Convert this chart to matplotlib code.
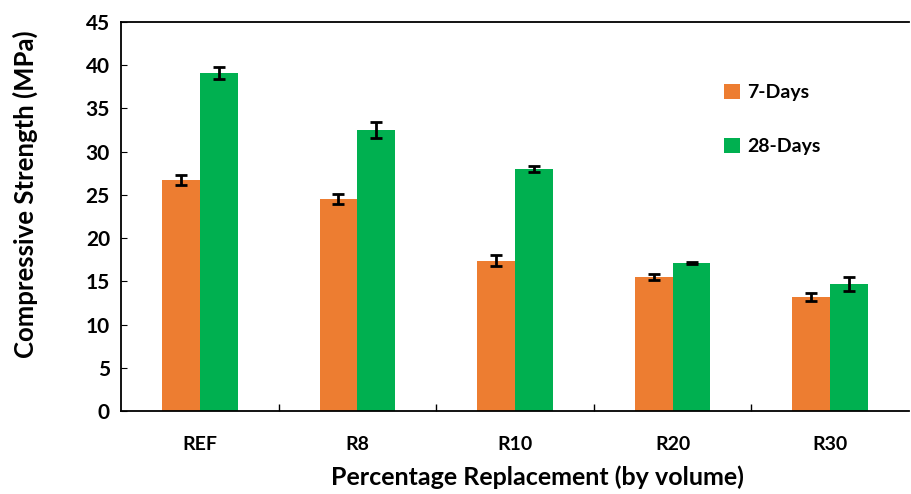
import numpy as np
import matplotlib
matplotlib.use("Agg")
import matplotlib.pyplot as plt

# ── data ──────────────────────────────────────────────────────────────────────
categories = ["REF", "R8", "R10", "R20", "R30"]
days7 = [26.7, 24.5, 17.4, 15.5, 13.2]
days7_err = [0.6, 0.55, 0.6, 0.35, 0.5]
days28 = [39.1, 32.5, 28.0, 17.1, 14.7]
days28_err = [0.7, 0.95, 0.35, 0.15, 0.8]
series_labels = ["7-Days", "28-Days"]
y_ticks = [0, 5, 10, 15, 20, 25, 30, 35, 40, 45]

plt.rcParams["font.family"] = ["Lato", "DejaVu Sans"]
plt.rcParams["font.weight"] = "bold"

fig = plt.figure(figsize=(9.11, 4.94), dpi=100)
ax = fig.add_axes([121 / 911, 1 - 411 / 494, 788 / 911, 389 / 494])

x = np.arange(len(categories))
w = 0.24
err_kw = dict(ecolor="black", elinewidth=2, capsize=4, capthick=2)
ax.bar(x - w / 2, days7, w, yerr=days7_err, color="#ED7D31",
       label=series_labels[0], error_kw=err_kw)
ax.bar(x + w / 2, days28, w, yerr=days28_err, color="#00B050",
       label=series_labels[1], error_kw=err_kw)

ax.set_xlim(-0.5, len(categories) - 0.5)
ax.set_ylim(0, 45)
ax.set_yticks(y_ticks, [str(v) for v in y_ticks], fontweight="bold")
ax.set_xticks(x, categories, fontweight="bold")
ax.set_xticks(np.arange(0.5, len(categories) - 0.5, 1), minor=True)
ax.tick_params(axis="x", which="major", length=0, pad=18, labelsize=14)
ax.tick_params(axis="x", which="minor", direction="in", length=5, width=1)
ax.tick_params(axis="y", direction="in", length=4, width=0.8, labelsize=15, pad=8)

for s in ["left", "bottom", "top"]:
    ax.spines[s].set_linewidth(1.3)
ax.spines["right"].set_visible(False)

ax.set_ylabel("Compressive Strength (MPa)", fontsize=18.5, fontweight="bold")
ax.yaxis.set_label_coords(-0.105, 0.557)
ax.set_xlabel("Percentage Replacement (by volume)", fontsize=18, fontweight="bold")
ax.xaxis.set_label_coords(0.529, -0.14)

ax.legend(loc="upper left", bbox_to_anchor=(724 / 911, 1 - 84 / 494),
          bbox_transform=fig.transFigure, frameon=False,
          prop={"size": 14, "weight": "bold"},
          handlelength=0.8, handleheight=0.8, handletextpad=0.4,
          labelspacing=1.9, borderpad=0, borderaxespad=0)

fig.savefig("out.png", dpi=100)
